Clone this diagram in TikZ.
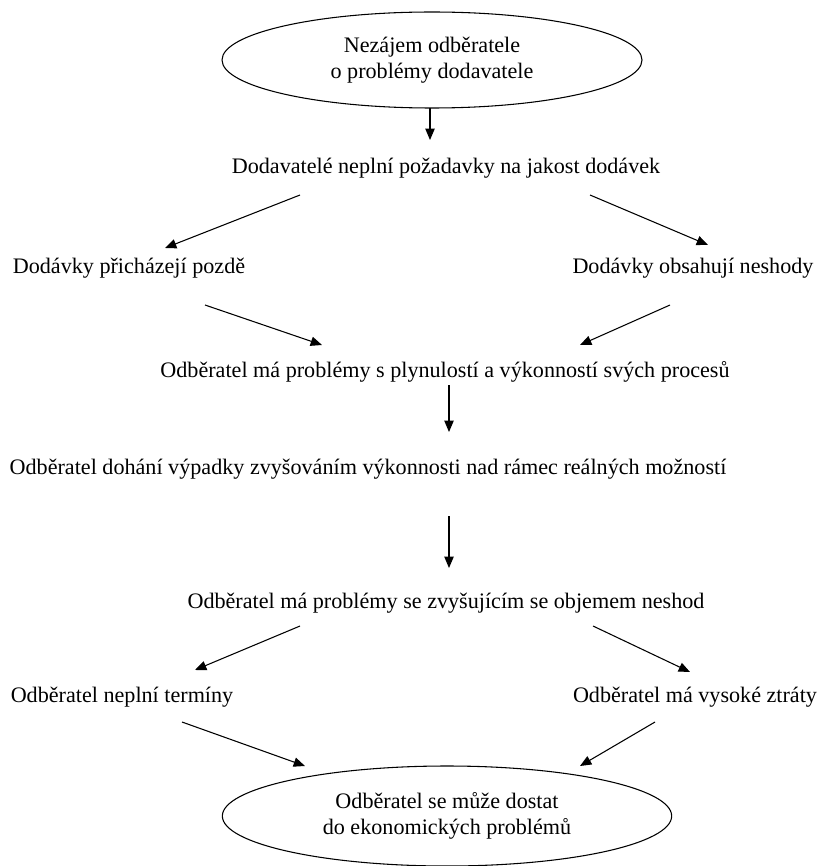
\documentclass[tikz,border=0pt]{standalone}
\usepackage{fontspec}
\setmainfont{Liberation Serif}
\usetikzlibrary{arrows.meta,shapes.geometric,calc}

\begin{document}
\begin{tikzpicture}[x=0.75pt,y=-0.75pt,
    txt/.style={inner sep=0pt,font=\fontsize{16.6}{19.2}\selectfont},
    oval/.style={txt,draw,ellipse,line width=0.8pt,align=center},
    arr/.style={-{Triangle[length=8.5pt,width=7pt]},line width=0.8pt}]
  \useasboundingbox (0,0) rectangle (823,866);
  \node[oval,minimum width=315pt,minimum height=72pt] (top) at (432,60)
    {Nezájem odběratele\\o problémy dodavatele};
  \node[txt] (dodavatele) at (446,168) {Dodavatelé neplní požadavky na jakost dodávek};
  \node[txt] (pozde) at (129,268) {Dodávky přicházejí pozdě};
  \node[txt] (neshody) at (693,268) {Dodávky obsahují neshody};
  \node[txt] (plynulost) at (445,372) {Odběratel má problémy s plynulostí a výkonností svých procesů};
  \node[txt] (dohani) at (368,469) {Odběratel dohání výpadky zvyšováním výkonnosti nad rámec reálných možností};
  \node[txt] (objem) at (446,603) {Odběratel má problémy se zvyšujícím se objemem neshod};
  \node[txt] (terminy) at (122,697) {Odběratel neplní termíny};
  \node[txt] (ztraty) at (695,697) {Odběratel má vysoké ztráty};
  \node[oval,minimum width=337pt,minimum height=75pt] (bottom) at (447,816)
    {Odběratel se může dostat\\do ekonomických problémů};
  % arrows stop short of the texts
  \draw[arr] ($(top.center)+(-2,48)$) -- ($(dodavatele)+(-16,-28)$);
  \draw[arr] ($(dodavatele)+(-146,27)$) -- ($(pozde)+(36,-20)$);
  \draw[arr] ($(dodavatele)+(144,27)$) -- ($(neshody)+(15,-23)$);
  \draw[arr] ($(pozde)+(76,37)$) -- ($(plynulost)+(-123,-27)$);
  \draw[arr] ($(neshody)+(-23,37)$) -- ($(plynulost)+(135,-27)$);
  \draw[arr] ($(plynulost)+(4,13)$) -- ($(dohani)+(81,-37)$);
  \draw[arr] ($(dohani)+(81,47)$) -- ($(objem)+(3,-35)$);
  \draw[arr] ($(objem)+(-146,23)$) -- ($(terminy)+(73,-27)$);
  \draw[arr] ($(objem)+(147,23)$) -- ($(ztraty)+(-5,-25)$);
  \draw[arr] ($(terminy)+(60,25)$) -- ($(bottom)+(-142,-50)$);
  \draw[arr] ($(ztraty)+(-40,25)$) -- ($(bottom)+(133,-50)$);
\end{tikzpicture}
\end{document}
